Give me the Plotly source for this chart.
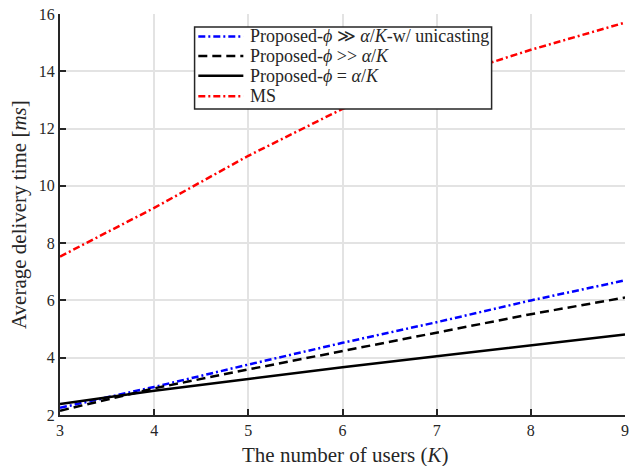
import plotly.graph_objects as go

K = [3, 4, 5, 6, 7, 8, 9]
unicast = [2.25, 2.98, 3.76, 4.52, 5.24, 6.0, 6.7]
dashed = [2.15, 2.93, 3.59, 4.23, 4.87, 5.52, 6.1]
solid = [2.38, 2.85, 3.26, 3.67, 4.05, 4.42, 4.81]
ms = [7.53, 9.23, 11.05, 12.69, 13.7, 14.75, 15.7]

names = [
    "Proposed-<i>ϕ</i> ≫ <i>α</i>/<i>K</i>-w/ unicasting",
    "Proposed-<i>ϕ</i> &gt;&gt; <i>α</i>/<i>K</i>",
    "Proposed-<i>ϕ</i> = <i>α</i>/<i>K</i>",
    "MS",
]
x_title = "The number of users (<i>K</i>)"
y_title = "Average delivery time [<i>ms</i>]"

FONT = "Liberation Serif"
AX = "#262626"
DASHDOT = "7px,3px,2px,3px"
styles = [
    dict(color="#0000ff", width=2.5, dash=DASHDOT),
    dict(color="#000000", width=2.5, dash="9px,5px"),
    dict(color="#000000", width=2.5, dash="solid"),
    dict(color="#ff0000", width=2.5, dash=DASHDOT),
]
series = [unicast, dashed, solid, ms]

fig = go.Figure()
for nm, ys, st in zip(names, series, styles):
    fig.add_trace(go.Scatter(x=K, y=ys, mode="lines", name=nm, line=st, showlegend=False))

# legend drawn as a boxed key (MATLAB-style compact rows)
L_left, L_right, L_top, L_bot = 0.2382, 0.7639, 0.9676, 0.7632
row_y = [0.9442, 0.8953, 0.8462, 0.7946]
shapes = [dict(type="rect", xref="paper", yref="paper", x0=L_left, x1=L_right,
               y0=L_bot, y1=L_top, fillcolor="white",
               line=dict(color=AX, width=1.5), layer="above")]
annotations = []
for nm, st, ry in zip(names, styles, row_y):
    shapes.append(dict(type="line", xref="paper", yref="paper", x0=0.2448, x1=0.3245,
                       y0=ry, y1=ry, line=st, layer="above"))
    annotations.append(dict(text=nm, xref="paper", yref="paper", x=0.3332, y=ry,
                            xanchor="left", yanchor="middle", showarrow=False,
                            font=dict(family=FONT, size=18, color=AX)))

annotations += [
    dict(text=x_title, xref="paper", yref="paper", x=0.504, y=0,
         yshift=-40, xanchor="center", yanchor="middle", showarrow=False,
         font=dict(family=FONT, size=21, color=AX)),
    dict(text=y_title, xref="paper", yref="paper", x=0, y=0.5,
         xshift=-41.5, xanchor="center", yanchor="middle", showarrow=False,
         textangle=-90, font=dict(family=FONT, size=21, color=AX)),
]

fig.update_layout(
    width=639, height=466,
    margin=dict(l=59.5, r=13.7, t=14.3, b=50.5, autoexpand=False),
    paper_bgcolor="white", plot_bgcolor="white",
    font=dict(family=FONT, size=16, color=AX),
    showlegend=False,
    shapes=shapes,
    annotations=annotations,
)
fig.update_xaxes(
    range=[3, 9], dtick=1, tick0=3, automargin=False,
    showline=True, linecolor=AX, linewidth=2,
    ticks="inside", ticklen=6, tickwidth=1.5, tickcolor=AX,
    showgrid=True, gridcolor="#e3e3e3", gridwidth=1.5,
    zeroline=False,
    tickfont=dict(family=FONT, size=16, color=AX),
)
fig.update_yaxes(
    range=[2, 16], dtick=2, tick0=2, automargin=False,
    showline=True, linecolor=AX, linewidth=2,
    ticks="inside", ticklen=6, tickwidth=1.5, tickcolor=AX,
    showgrid=True, gridcolor="#e3e3e3", gridwidth=1.5,
    zeroline=False,
    tickfont=dict(family=FONT, size=16, color=AX),
)

fig.write_html("out.html", config={"displayModeBar": False},
               post_script="document.body.style.margin='0';")
